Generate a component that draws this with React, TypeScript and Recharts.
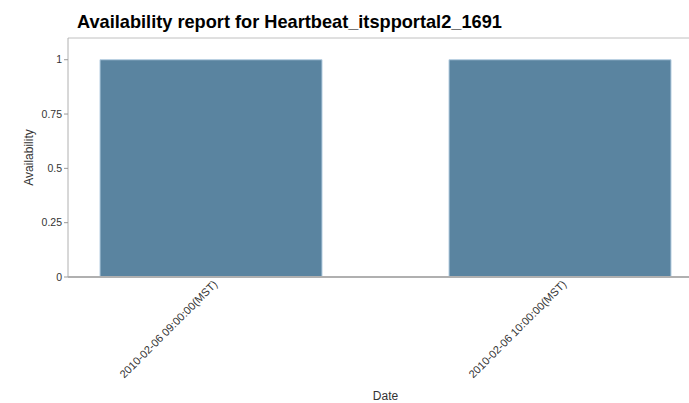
import { BarChart, Bar, XAxis, YAxis, ReferenceLine } from 'recharts';

// Values
const dates = ['2010-02-06 09:00:00(MST)', '2010-02-06 10:00:00(MST)'];
const availability = [1, 1];
const yTicks = [0, 0.25, 0.5, 0.75, 1];

const data = dates.map((d, i) => ({ date: d, availability: availability[i] }));

const AngledTick = ({ x, y, payload }: { x?: number; y?: number; payload?: { value: string } }) => (
    <text
        x={x}
        y={y}
        transform={`rotate(-45, ${x}, ${y})`}
        textAnchor="end"
        dy={5}
        dx={5}
        fontSize={11}
        fill="#333"
        fontFamily="Liberation Sans, Arial, sans-serif"
    >
        {payload?.value}
    </text>
);

export default function App() {
    return (
        <div style={{ position: 'absolute', left: 0, top: 0, width: 689, height: 403, background: '#fff', overflow: 'hidden' }}>
            <div
                style={{
                    position: 'absolute',
                    left: 77,
                    top: 12,
                    fontFamily: 'Liberation Sans, Arial, sans-serif',
                    fontWeight: 'bold',
                    fontSize: 18.2,
                    color: '#000',
                    whiteSpace: 'nowrap',
                }}
            >
                Availability report for Heartbeat_itspportal2_1691
            </div>
            <BarChart
                width={689}
                height={403}
                data={data}
                margin={{ top: 38, right: 0, left: 0, bottom: 0 }}
                barCategoryGap={63.5}
                style={{ fontFamily: 'Liberation Sans, Arial, sans-serif' }}
            >
                <XAxis
                    dataKey="date"
                    height={126}
                    padding={{ left: -31.5, right: -45.5 }}
                    tickLine={false}
                    axisLine={{ stroke: '#b0b0b0', strokeWidth: 2 }}
                    tick={<AngledTick />}
                    interval={0}
                    label={{ value: 'Date', position: 'insideBottom', offset: 3, fill: '#333', fontSize: 12, dx: 7 }}
                />
                <YAxis
                    width={68}
                    domain={[0, 1.1]}
                    ticks={yTicks}
                    allowDataOverflow
                    tickSize={4}
                    tick={{ fontSize: 10.5, fill: '#333' }}
                    tickLine={{ stroke: '#999' }}
                    axisLine={{ stroke: '#b0b0b0' }}
                    label={{ value: 'Availability', angle: -90, position: 'insideLeft', offset: 29, fill: '#333', fontSize: 12, style: { textAnchor: 'middle' } }}
                />
                <ReferenceLine y={1.1} stroke="#c0c0c0" />
                <Bar dataKey="availability" fill="#5a84a0" stroke="#b4cde0" strokeWidth={1} isAnimationActive={false} />
            </BarChart>
        </div>
    );
}
